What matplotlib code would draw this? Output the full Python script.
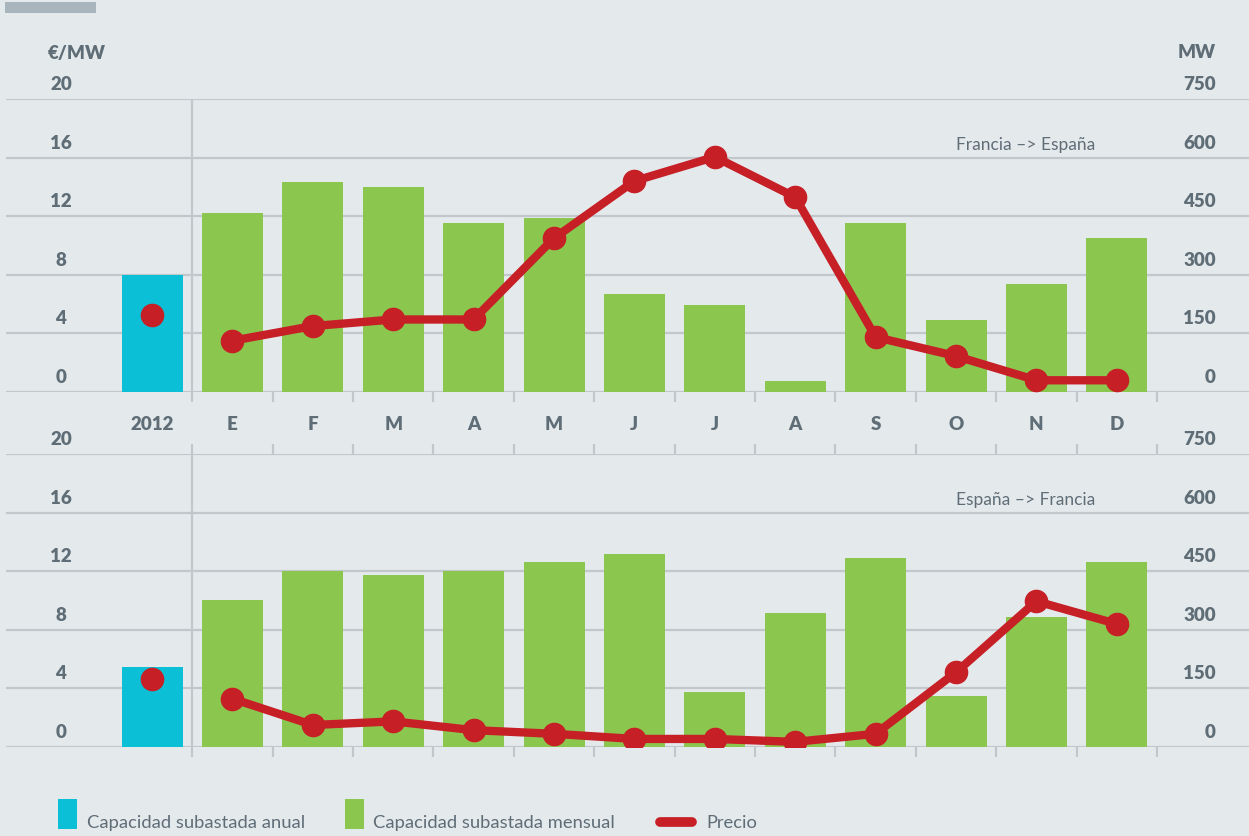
import numpy as np
import matplotlib
matplotlib.use('Agg')
import matplotlib.pyplot as plt
from matplotlib.patches import Rectangle
from matplotlib.lines import Line2D

categorias = ['2012', 'E', 'F', 'M', 'A', 'M', 'J', 'J', 'A', 'S', 'O', 'N', 'D']

# Francia -> España
cap_fe = [300, 458, 537, 525, 433, 445, 251, 223, 28, 433, 184, 276, 394]
precio_fe = [5.25, 3.5, 4.5, 4.95, 4.95, 10.5, 14.4, 16.05, 13.3, 3.75, 2.45, 0.8, 0.8]

# España -> Francia
cap_ef = [205, 376, 450, 440, 450, 474, 494, 141, 343, 484, 131, 333, 474]
precio_ef = [4.65, 3.3, 1.5, 1.75, 1.15, 0.9, 0.55, 0.55, 0.35, 0.9, 5.1, 9.95, 8.4]

ticks_eur = [0, 4, 8, 12, 16, 20]
ticks_mw = [0, 150, 300, 450, 600, 750]

BG = '#e4e9ec'
GRID = '#c3c7cb'
TXT = '#5f6d77'
CYAN = '#0bbfd6'
GREEN = '#8bc64f'
RED = '#c61f26'

plt.rcParams['font.family'] = ['Lato', 'DejaVu Sans']

W, H = 1249, 837
fig = plt.figure(figsize=(W / 100, H / 100), dpi=100, facecolor=BG)

x0 = 152.0
dx = 80.4
xl = ((0 - x0) / dx, (W - x0) / dx)
colores = [CYAN] + [GREEN] * 12
x = np.arange(len(categorias))


def px(p):
    return (p - x0) / dx


def panel(top_px, cap, precio, titulo, top_ticks):
    ax = fig.add_axes([0, 1 - (top_px + 293) / H, 1, 293 / H])
    ax.set_facecolor('none')
    ax.set_xlim(xl)
    ax.set_ylim(0, 750)
    for s in ax.spines.values():
        s.set_visible(False)
    ax.hlines(ticks_mw, px(6), xl[1], color=GRID, lw=1.6, zorder=1)
    ax.axvline(0.5, color=GRID, lw=1.6, zorder=1)
    ax.bar(x, cap, width=61 / dx, color=colores, zorder=2)
    ax.set_xticks(np.arange(13) + 0.5)
    ax.set_xticklabels([])
    ax.set_yticks([])
    ax.tick_params(axis='x', length=7, width=1.6, color=GRID, top=top_ticks, direction='out')

    ax2 = ax.twinx()
    ax2.set_xlim(xl)
    ax2.set_ylim(0, 20)
    ax2.set_yticks([])
    for s in ax2.spines.values():
        s.set_visible(False)
    ax2.plot(x[1:], precio[1:], color=RED, lw=6, zorder=3, solid_capstyle='round')
    ax2.plot(x, precio, 'o', color=RED, ms=16, zorder=4)

    off = 15.5 / 293 * 20
    for v, m in zip(ticks_eur, ticks_mw):
        ax2.text(px(61), v + off, str(v), ha='center', va='center',
                 fontsize=13.5, fontweight='heavy', color=TXT)
        ax2.text(px(1216), v + off, str(m), ha='right', va='center',
                 fontsize=13.5, fontweight='heavy', color=TXT)
    ax2.text(px(1095), 16 + 14 / 293 * 20, titulo, ha='right', va='center',
             fontsize=12.5, color=TXT)
    return ax


ax_top = panel(100, cap_fe, precio_fe, 'Francia –> España', False)
ax_bot = panel(455, cap_ef, precio_ef, 'España –> Francia', True)

for i, c in enumerate(categorias):
    ax_top.text(i, -(425 - 393) / 293 * 750, c, ha='center', va='center',
                fontsize=13.5, fontweight='heavy', color=TXT)

fig.text(48 / W, 1 - 53 / H, '€/MW', ha='left', va='center', fontsize=13.5,
         fontweight='heavy', color=TXT)
fig.text(1216 / W, 1 - 53 / H, 'MW', ha='right', va='center', fontsize=13.5,
         fontweight='heavy', color=TXT)

fig.add_artist(Rectangle((5 / W, 1 - 14 / H), 91 / W, 11 / H, transform=fig.transFigure,
                         color='#a9b5bd', lw=0))

# leyenda
fig.add_artist(Rectangle((58 / W, 1 - 830 / H), 19 / W, 30 / H, transform=fig.transFigure,
                         color=CYAN, lw=0))
fig.text(87 / W, 1 - 823 / H, 'Capacidad subastada anual', ha='left', va='center',
         fontsize=13.2, color=TXT)
fig.add_artist(Rectangle((345 / W, 1 - 830 / H), 19 / W, 30 / H, transform=fig.transFigure,
                         color=GREEN, lw=0))
fig.text(373 / W, 1 - 823 / H, 'Capacidad subastada mensual', ha='left', va='center',
         fontsize=13.2, color=TXT)
fig.add_artist(Line2D([660 / W, 692 / W], [1 - 823 / H, 1 - 823 / H], transform=fig.transFigure,
                      color=RED, lw=7, solid_capstyle='round'))
fig.text(706 / W, 1 - 823 / H, 'Precio', ha='left', va='center', fontsize=13.2, color=TXT)

fig.savefig('out.png', dpi=100, facecolor=BG)
